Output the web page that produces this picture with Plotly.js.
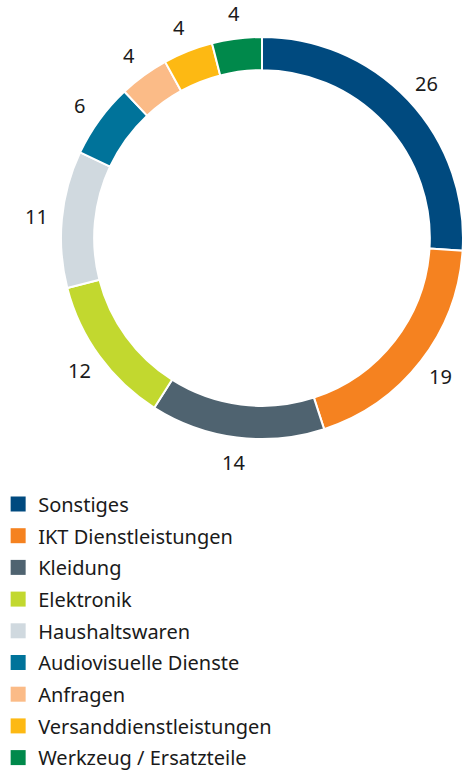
<!DOCTYPE html>
<html>
<head>
<meta charset="utf-8">
<script src="https://cdn.plot.ly/plotly-3.0.1.min.js"></script>
<style>html,body{margin:0;padding:0;background:#fff;}#chart{width:463px;height:771px;}</style>
</head>
<body>
<div id="chart"></div>
<script>
const categories = ["Sonstiges", "IKT Dienstleistungen", "Kleidung", "Elektronik", "Haushaltswaren", "Audiovisuelle Dienste", "Anfragen", "Versanddienstleistungen", "Werkzeug / Ersatzteile"];
const values = [26, 19, 14, 12, 11, 6, 4, 4, 4];
const colors = ["#004a7f", "#f58220", "#4f6370", "#c2d82f", "#d0d9df", "#00739a", "#fbbb87", "#fdb913", "#00894b"];

const FONT = "Noto Sans, Open Sans, sans-serif";
const TXT = "#1a1a1a";
const W = 463, H = 771;
const dom = {x: [0.1317, 1], y: [0.4293, 0.9533]};

const traces = [{
  type: "pie",
  labels: categories,
  values: values,
  marker: {colors: colors, line: {color: "#ffffff", width: 2}},
  hole: 0.835,
  sort: false,
  direction: "clockwise",
  rotation: 0,
  textinfo: "none",
  showlegend: false,
  hoverinfo: "none",
  domain: dom
}];

categories.forEach((c, i) => {
  traces.push({
    type: "scatter",
    mode: "markers",
    x: [null], y: [null],
    name: c,
    legendgroup: "g" + i,
    marker: {symbol: "square", size: 15, color: colors[i]},
    hoverinfo: "none"
  });
});

// value labels placed outside the ring at each slice's mid-angle
const total = values.reduce((a, b) => a + b, 0);
const cxPx = (dom.x[0] + dom.x[1]) / 2 * W;
const cyPx = (1 - (dom.y[0] + dom.y[1]) / 2) * H;
const R = 226;
let cum = 0;
const annotations = values.map((v) => {
  const mid = (cum + v / 2) / total * 2 * Math.PI;
  cum += v;
  const px = cxPx + R * Math.sin(mid);
  const py = cyPx - R * Math.cos(mid);
  return {
    xref: "paper", yref: "paper",
    x: px / W, y: 1 - py / H,
    xanchor: "center", yanchor: "middle",
    text: String(v), showarrow: false,
    font: {family: FONT, size: 20, color: TXT}
  };
});

const layout = {
  width: W, height: H,
  margin: {l: 0, r: 0, t: 0, b: 0, autoexpand: false},
  paper_bgcolor: "#ffffff",
  plot_bgcolor: "#ffffff",
  xaxis: {visible: false},
  yaxis: {visible: false},
  showlegend: true,
  annotations: annotations,
  legend: {
    x: -0.004, y: 0.3716, xanchor: "left", yanchor: "top",
    traceorder: "grouped",
    tracegroupgap: 2.7,
    font: {family: FONT, size: 20, color: TXT},
    bgcolor: "rgba(0,0,0,0)"
  }
};

Plotly.newPlot("chart", traces, layout, {displayModeBar: false, staticPlot: true});
</script>
</body>
</html>
